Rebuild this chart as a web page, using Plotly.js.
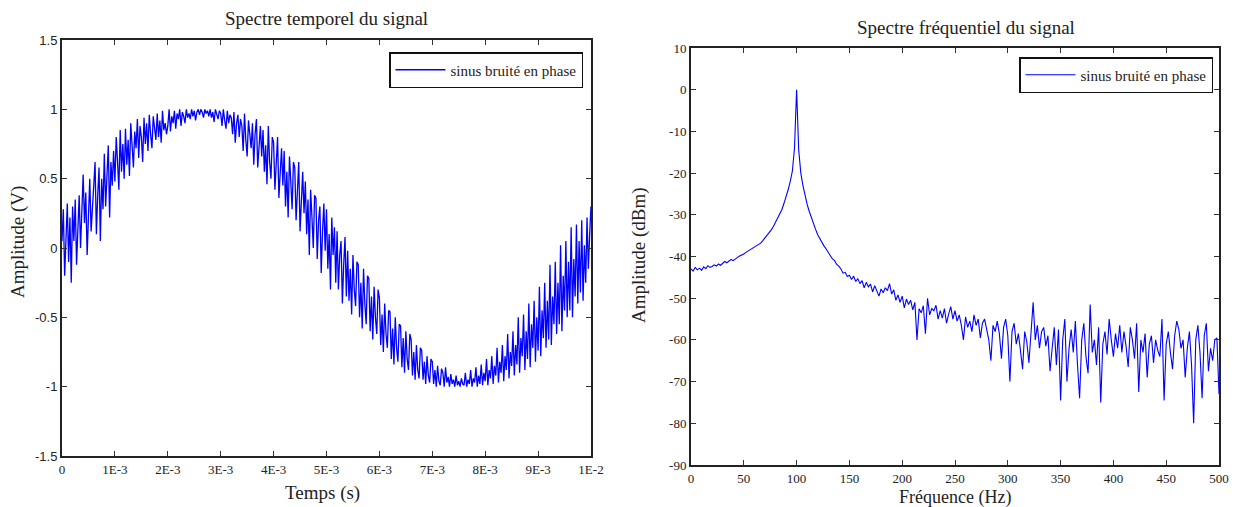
<!DOCTYPE html>
<html>
<head>
<meta charset="utf-8">
<script src="https://cdn.plot.ly/plotly-3.0.1.min.js"></script>
<style>html,body{margin:0;padding:0;background:#fff;}#chart{width:1237px;height:507px;}</style>
</head>
<body>
<div id="chart"></div>
<script>
// ---- Data ----
const timeStart = 0;           // s
const timeStep = 0.025e-3;     // s between samples
const timeSignal = [
  0.05, 0.28, -0.20, 0.15, 0.32, -0.10, 0.22, -0.25,
  0.30, 0.05, 0.35, -0.12, 0.20, 0.38, 0.00, 0.25,
  0.53, 0.18, 0.40, -0.05, 0.30, 0.50, 0.12, 0.35,
  0.45, 0.62, 0.10, 0.38, 0.58, 0.05, 0.50, 0.28,
  0.68, 0.30, 0.55, 0.74, 0.22, 0.62, 0.45, 0.70,
  0.48, 0.80, 0.62, 0.42, 0.85, 0.55, 0.75, 0.50,
  0.86, 0.60, 0.78, 0.52, 0.90, 0.70, 0.58, 0.84,
  0.72, 0.93, 0.65, 0.88, 0.80, 0.62, 0.94, 0.75,
  0.90, 0.70, 0.96, 0.82, 0.72, 0.95, 0.86, 0.78,
  0.97, 0.80, 0.92, 0.76, 0.99, 0.85, 0.90, 0.82,
  0.88, 1.00, 0.84, 0.95, 0.90, 0.99, 0.86, 0.97,
  0.93, 1.00, 0.88, 0.98, 0.95, 0.90, 1.00, 0.94,
  0.97, 0.93, 1.00, 0.95, 0.99, 0.92, 0.98, 1.00,
  0.96, 1.00, 0.98, 0.94, 1.00, 0.97, 0.99, 0.95,
  1.00, 0.94, 0.98, 0.91, 1.00, 0.96, 0.93, 0.99,
  0.97, 0.88, 1.00, 0.92, 0.86, 0.99, 0.90, 0.96,
  0.94, 0.82, 0.98, 0.76, 0.90, 0.96, 0.80, 0.93,
  0.88, 0.70, 0.97, 0.78, 0.66, 0.92, 0.84, 0.72,
  0.90, 0.60, 0.82, 0.93, 0.58, 0.78, 0.88, 0.66,
  0.85, 0.55, 0.74, 0.46, 0.88, 0.62, 0.50, 0.80,
  0.76, 0.42, 0.68, 0.80, 0.36, 0.60, 0.72, 0.45,
  0.70, 0.30, 0.55, 0.22, 0.66, 0.48, 0.28, 0.62,
  0.58, 0.20, 0.45, 0.62, 0.12, 0.40, 0.55, 0.25,
  0.48, 0.10, 0.35, -0.05, 0.42, 0.22, 0.00, 0.38,
  0.36, -0.08, 0.20, 0.30, -0.18, 0.12, 0.32, -0.02,
  0.28, -0.15, 0.10, -0.30, 0.22, -0.05, 0.15, -0.25,
  0.12, -0.30, -0.05, 0.05, -0.40, -0.12, 0.08, -0.35,
  -0.02, -0.38, -0.15, -0.48, -0.05, -0.30, -0.42, -0.10,
  -0.12, -0.50, -0.25, -0.58, -0.15, -0.40, -0.55, -0.20,
  -0.22, -0.60, -0.35, -0.66, -0.28, -0.50, -0.62, -0.30,
  -0.36, -0.70, -0.48, -0.75, -0.40, -0.62, -0.72, -0.45,
  -0.46, -0.80, -0.58, -0.84, -0.50, -0.72, -0.82, -0.55,
  -0.56, -0.86, -0.65, -0.90, -0.60, -0.80, -0.88, -0.62,
  -0.66, -0.92, -0.75, -0.95, -0.70, -0.88, -0.94, -0.72,
  -0.74, -0.95, -0.82, -0.98, -0.78, -0.92, -0.97, -0.80,
  -0.82, -0.98, -0.88, -1.00, -0.85, -0.96, -0.99, -0.87,
  -0.90, -1.00, -0.86, -0.97, -0.93, -1.00, -0.91, -0.98,
  -0.95, -1.00, -0.92, -0.99, -0.96, -1.00, -0.94, -0.98,
  -0.99, -0.90, -1.00, -0.95, -0.98, -0.88, -1.00, -0.94,
  -0.97, -0.86, -1.00, -0.92, -0.98, -0.84, -0.99, -0.90,
  -0.96, -0.80, -0.99, -0.88, -0.94, -0.78, -0.98, -0.85,
  -0.92, -0.72, -0.97, -0.82, -0.90, -0.70, -0.96, -0.78,
  -0.88, -0.62, -0.94, -0.75, -0.85, -0.60, -0.92, -0.70,
  -0.84, -0.50, -0.90, -0.65, -0.78, -0.48, -0.88, -0.60,
  -0.80, -0.40, -0.86, -0.55, -0.72, -0.38, -0.82, -0.50,
  -0.74, -0.28, -0.78, -0.45, -0.65, -0.25, -0.72, -0.38,
  -0.66, -0.12, -0.70, -0.35, -0.55, -0.10, -0.62, -0.25,
  -0.55, 0.02, -0.60, -0.20, -0.45, 0.05, -0.50, -0.10,
  -0.45, 0.15, -0.50, -0.08, -0.35, 0.17, -0.40, 0.05,
  -0.32, 0.20, -0.38, 0.02, -0.25, 0.22, -0.15, 0.10,
  0.30
];

const freqStart = 0;   // Hz
const freqStep = 2;    // Hz between bins
const spectrumDbm = [
  -43.0, -43.5, -42.6, -43.2, -42.8, -43.3, -42.5, -42.9, -42.2, -42.6,
  -42.4, -42.0, -42.3, -41.8, -42.1, -41.6, -41.2, -41.5, -41.0, -40.7,
  -41.0, -40.5, -40.2, -39.9, -39.7, -39.4, -39.0, -38.7, -38.3, -38.2,
  -37.8, -37.5, -37.2, -36.8, -36.2, -35.6, -35.0, -34.3, -33.6, -32.8,
  -31.8, -30.8, -29.9, -28.8, -27.3, -25.8, -24.0, -22.0, -19.5, -14.0,
  0.0,
  -14.5, -20.0, -23.0, -25.5, -27.5, -29.2, -30.8, -32.2, -33.5, -34.8,
  -35.8, -36.8, -37.5, -38.2, -39.2, -39.8, -40.6, -41.0, -41.9, -42.3,
  -43.0, -44.0, -43.8, -44.8, -44.5, -45.5, -44.7, -46.0, -45.3, -46.5,
  -45.8, -47.5, -46.2, -47.3, -46.6, -48.5, -47.0, -48.2, -49.5, -47.8,
  -48.7, -47.5, -48.2, -46.5, -49.0, -48.0, -50.5, -49.2, -51.0, -49.5,
  -52.3, -50.2, -51.5, -50.5, -52.8, -51.0, -60.0, -52.5, -53.5, -51.8,
  -58.5, -50.0, -54.0, -52.5, -53.0, -51.7, -55.0, -53.0, -54.8, -52.5,
  -56.0, -53.8, -52.0, -55.0, -53.0, -55.5, -54.0, -56.5, -60.0, -54.5,
  -57.0, -55.5, -58.0, -54.0, -56.5, -55.0, -59.5, -56.0, -55.0, -57.5,
  -60.0, -65.0, -56.5, -58.0, -55.5, -58.5, -64.5, -57.0, -55.0, -59.0,
  -70.0, -58.0, -56.0, -61.0, -58.5, -62.5, -67.0, -58.0, -60.5, -65.5,
  -57.5, -51.0, -60.0, -56.5, -62.0, -58.0, -57.0, -61.5, -59.0, -67.5,
  -62.0, -57.0, -66.0, -57.5, -74.5, -60.0, -55.0, -70.0, -62.0, -57.5,
  -63.0, -55.5, -66.0, -74.0, -60.0, -56.0, -64.0, -68.0, -51.5, -63.0,
  -60.0, -66.0, -57.0, -75.0, -61.0, -58.0, -63.5, -55.0, -60.0, -64.0,
  -58.5, -62.0, -56.5, -63.0, -58.0, -61.5, -66.5, -57.0, -60.0, -64.5,
  -56.0, -72.5, -60.0, -63.0, -58.5, -69.0, -61.0, -59.0, -65.5, -60.0,
  -62.5, -64.0, -55.0, -74.5, -61.0, -58.0, -63.0, -67.0, -59.0, -55.5,
  -57.5, -62.0, -60.0, -69.0, -62.0, -58.0, -66.0, -80.0, -60.0, -56.5,
  -63.0, -74.0, -59.0, -56.0, -67.5, -62.0, -65.0, -60.0, -59.5, -73.0
];

const seriesName = "sinus bruité en phase";
const timeTickVals = [0, 0.001, 0.002, 0.003, 0.004, 0.005, 0.006, 0.007, 0.008, 0.009, 0.01];
const timeTickText = ["0", "1E-3", "2E-3", "3E-3", "4E-3", "5E-3", "6E-3", "7E-3", "8E-3", "9E-3", "1E-2"];
const ampTickVals = [-1.5, -1, -0.5, 0, 0.5, 1, 1.5];
const ampTickText = ["-1.5", "-1", "-0.5", "0", "0.5", "1", "1.5"];
const freqTickVals = [0, 50, 100, 150, 200, 250, 300, 350, 400, 450, 500];
const freqTickText = ["0", "50", "100", "150", "200", "250", "300", "350", "400", "450", "500"];
const dbTickVals = [-90, -80, -70, -60, -50, -40, -30, -20, -10, 0, 10];
const dbTickText = ["-90", "-80", "-70", "-60", "-50", "-40", "-30", "-20", "-10", "0", "10"];

// ---- Plot ----
const W = 1237, H = 507;
const px = v => v / W;
const py = v => 1 - v / H;
const serif = "Liberation Serif, Times New Roman, serif";
const sans = "Liberation Sans, Arial, sans-serif";
const lineBlue = "#0000ff";
const textCol = "#222";

const traces = [
  {
    type: "scatter", mode: "lines", name: seriesName,
    x0: timeStart, dx: timeStep, y: timeSignal,
    xaxis: "x", yaxis: "y", legend: "legend",
    line: {color: lineBlue, width: 1.3}
  },
  {
    type: "scatter", mode: "lines", name: seriesName,
    x0: freqStart, dx: freqStep, y: spectrumDbm,
    xaxis: "x2", yaxis: "y2", legend: "legend2",
    line: {color: lineBlue, width: 1.1}
  }
];

const axisCommon = {
  showgrid: false, zeroline: false, showline: true, mirror: "allticks",
  linecolor: "#222", linewidth: 2,
  ticks: "inside", ticklen: 5, tickwidth: 1, tickcolor: "#333",
  tickmode: "array", fixedrange: true
};

const legendCommon = {
  xanchor: "right", yanchor: "top",
  bgcolor: "#fff", bordercolor: "#111", borderwidth: 1.5,
  font: {family: serif, size: 15, color: textCol},
  itemwidth: 50, tracegroupgap: 0
};

const layout = {
  width: W, height: H,
  margin: {l: 0, r: 0, t: 0, b: 0},
  paper_bgcolor: "#fff", plot_bgcolor: "#fff",
  showlegend: true,
  xaxis: Object.assign({}, axisCommon, {
    domain: [px(62), px(591)], range: [0, 0.01], anchor: "y",
    tickvals: timeTickVals, ticktext: timeTickText,
    tickfont: {family: serif, size: 13, color: textCol}
  }),
  yaxis: Object.assign({}, axisCommon, {
    domain: [py(456), py(40)], range: [-1.5, 1.5], anchor: "x",
    tickvals: ampTickVals, ticktext: ampTickText,
    tickfont: {family: sans, size: 13, color: textCol}
  }),
  xaxis2: Object.assign({}, axisCommon, {
    domain: [px(691), px(1219)], range: [0, 500], anchor: "y2",
    tickvals: freqTickVals, ticktext: freqTickText,
    tickfont: {family: serif, size: 13, color: textCol}
  }),
  yaxis2: Object.assign({}, axisCommon, {
    domain: [py(465), py(48)], range: [-90, 10], anchor: "x2",
    tickvals: dbTickVals, ticktext: dbTickText,
    tickfont: {family: serif, size: 13, color: textCol}
  }),
  legend: Object.assign({}, legendCommon, {x: px(583), y: py(52)}),
  legend2: Object.assign({}, legendCommon, {x: px(1213), y: py(57)}),
  annotations: [
    {text: "Spectre temporel du signal", xref: "paper", yref: "paper",
     x: px(326), y: py(19), xanchor: "center", yanchor: "middle", showarrow: false,
     font: {family: serif, size: 19, color: textCol}},
    {text: "Spectre fréquentiel du signal", xref: "paper", yref: "paper",
     x: px(966), y: py(27), xanchor: "center", yanchor: "middle", showarrow: false,
     font: {family: serif, size: 19, color: textCol}},
    {text: "Temps (s)", xref: "paper", yref: "paper",
     x: px(322), y: py(493), xanchor: "center", yanchor: "middle", showarrow: false,
     font: {family: serif, size: 19, color: textCol}},
    {text: "Fréquence (Hz)", xref: "paper", yref: "paper",
     x: px(955), y: py(497), xanchor: "center", yanchor: "middle", showarrow: false,
     font: {family: serif, size: 18, color: textCol}},
    {text: "Amplitude (V)", xref: "paper", yref: "paper", textangle: -90,
     x: px(18), y: py(242), xanchor: "center", yanchor: "middle", showarrow: false,
     font: {family: serif, size: 19, color: textCol}},
    {text: "Amplitude (dBm)", xref: "paper", yref: "paper", textangle: -90,
     x: px(639), y: py(255), xanchor: "center", yanchor: "middle", showarrow: false,
     font: {family: serif, size: 19, color: textCol}}
  ]
};

Plotly.newPlot("chart", traces, layout, {staticPlot: true, displayModeBar: false});
</script>
</body>
</html>
